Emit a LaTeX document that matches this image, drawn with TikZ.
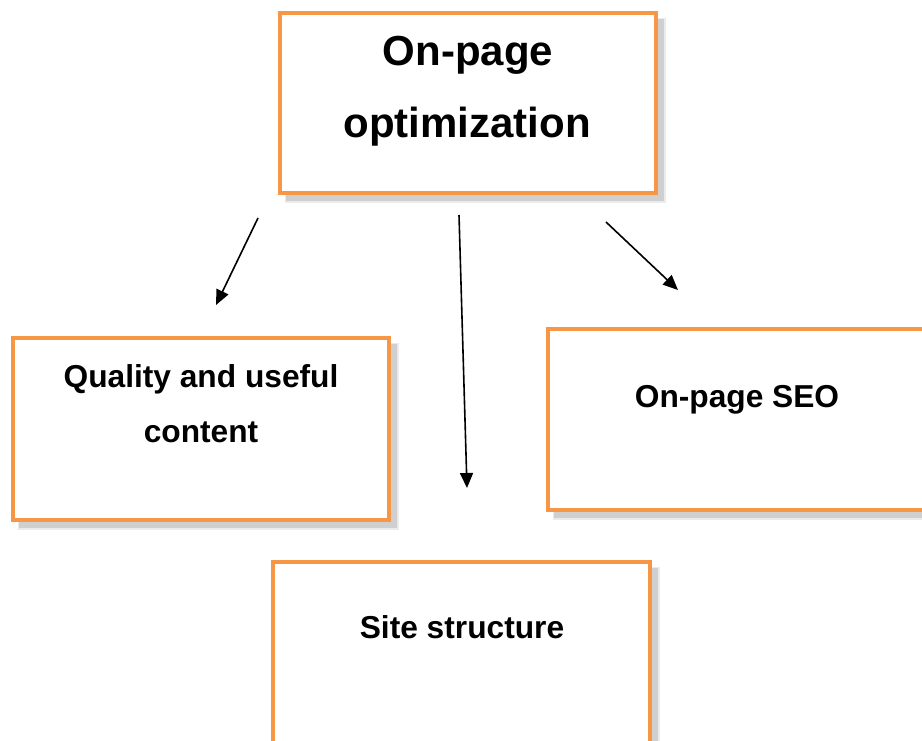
\documentclass[tikz,border=0pt]{standalone}
\usepackage{fontspec}
\setmainfont{Liberation Sans}
\usetikzlibrary{arrows.meta}
\definecolor{boxorange}{HTML}{F79646}
\tikzset{
  boxframe/.style={draw=boxorange, line width=4.5pt, fill=white, rectangle,
    inner sep=0pt, minimum width=#1},
  boxshadow/.style={fill=gray!38, draw=none},
  boxhalo/.style={fill=gray!16, draw=none},
  bigtext/.style={anchor=base, inner sep=0pt, font=\fontsize{42}{50}\selectfont\bfseries},
  labeltext/.style={anchor=base, inner sep=0pt, font=\fontsize{31.7}{38}\selectfont\bfseries},
  link/.style={line width=1.6pt, -{Triangle[length=15pt,width=13pt]}}
}
\newcommand{\shadowbox}[4]{%
  % soft shadow offset to the lower right of a box given by its corners
  \fill[boxhalo] (#1+5,#2+5) rectangle (#3+10,#4+10);
  \fill[boxshadow] (#1+6,#2+6) rectangle (#3+8,#4+8);
}
\begin{document}
\begin{tikzpicture}[x=1pt,y=-1pt]
  \useasboundingbox[fill=white] (0,0) rectangle (922,740);

  % shadows
  \shadowbox{280}{13}{656}{193}
  \shadowbox{13}{338}{389}{520}
  \shadowbox{548}{329}{930}{510}
  \shadowbox{273}{562}{650}{745}

  % boxes
  \node[boxframe=376pt, minimum height=180pt] (top) at (468,103) {};
  \node[boxframe=376pt, minimum height=182pt] (quality) at (201,429) {};
  \node[boxframe=382pt, minimum height=181pt] (seo) at (739,419.5) {};
  \node[boxframe=377pt, minimum height=183pt] (site) at (461.5,653.5) {};

  % texts
  \node[bigtext] (toptxt1) at (468,65) {On-page};
  \node[bigtext] (toptxt2) at (467,137) {optimization};
  \node[labeltext] (qtxt1) at (201,387) {Quality and useful};
  \node[labeltext] (qtxt2) at (201,442) {content};
  \node[labeltext] (seotxt) at (737,407) {On-page SEO};
  \node[labeltext] (sitetxt) at (462,638) {Site structure};

  % arrows
  \coordinate (aL0) at (258,218);
  \coordinate (aL1) at (216,305);
  \coordinate (aM0) at (459,215);
  \coordinate (aM1) at (467,488);
  \coordinate (aR0) at (606,222);
  \coordinate (aR1) at (678,290);
  \draw[link] (aL0) -- (aL1);
  \draw[link] (aM0) -- (aM1);
  \draw[link] (aR0) -- (aR1);
\end{tikzpicture}
\end{document}
